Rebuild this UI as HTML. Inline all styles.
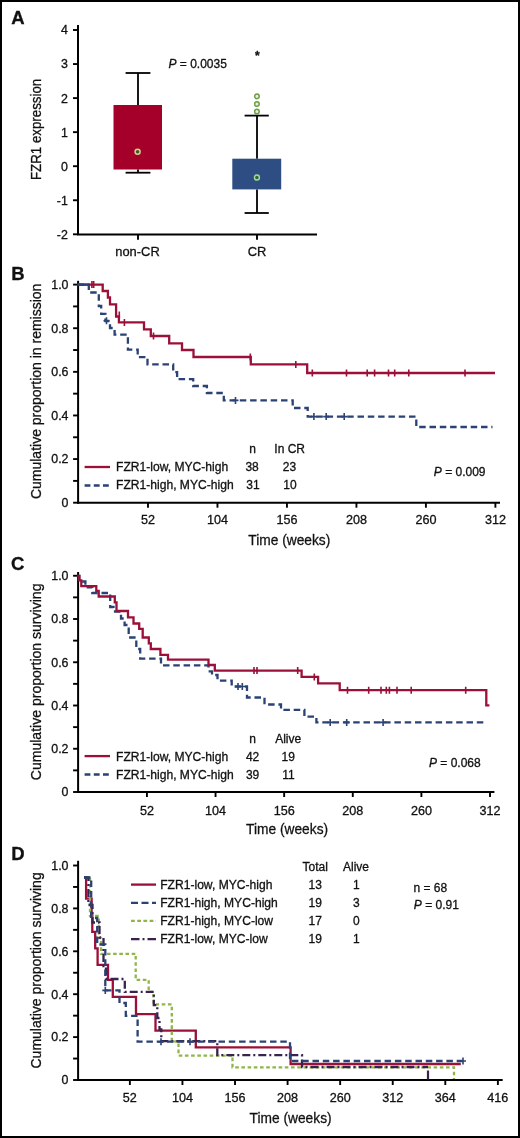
<!DOCTYPE html>
<html><head><meta charset="utf-8"><style>
html,body{margin:0;padding:0;background:#fff;}
.wrap{position:relative;width:516px;height:1134px;border:2px solid #000;overflow:hidden;}
svg{display:block;will-change:transform;}
text{font-family:"Liberation Sans", sans-serif;fill:#111;stroke:#111;stroke-width:0.3px;}
</style></head><body><div class="wrap">
<svg width="520" height="1138" viewBox="0 0 520 1138" style="position:absolute;left:-2px;top:-2px">
<text x="11.2" y="24.2" font-size="18.5" text-anchor="start" font-weight="bold" >A</text>
<line x1="78" y1="25" x2="78" y2="235" stroke="#000" stroke-width="2" />
<line x1="77" y1="234.4" x2="317" y2="234.4" stroke="#000" stroke-width="2" />
<line x1="73" y1="234.29999999999998" x2="78" y2="234.29999999999998" stroke="#000" stroke-width="1.9" />
<text x="67.9" y="238.7" font-size="12.4" text-anchor="end" font-weight="normal" >-2</text>
<line x1="73" y1="200.25" x2="78" y2="200.25" stroke="#000" stroke-width="1.9" />
<text x="67.9" y="204.65" font-size="12.4" text-anchor="end" font-weight="normal" >-1</text>
<line x1="73" y1="166.2" x2="78" y2="166.2" stroke="#000" stroke-width="1.9" />
<text x="67.9" y="170.6" font-size="12.4" text-anchor="end" font-weight="normal" >0</text>
<line x1="73" y1="132.14999999999998" x2="78" y2="132.14999999999998" stroke="#000" stroke-width="1.9" />
<text x="67.9" y="136.54999999999998" font-size="12.4" text-anchor="end" font-weight="normal" >1</text>
<line x1="73" y1="98.1" x2="78" y2="98.1" stroke="#000" stroke-width="1.9" />
<text x="67.9" y="102.5" font-size="12.4" text-anchor="end" font-weight="normal" >2</text>
<line x1="73" y1="64.05" x2="78" y2="64.05" stroke="#000" stroke-width="1.9" />
<text x="67.9" y="68.45" font-size="12.4" text-anchor="end" font-weight="normal" >3</text>
<line x1="73" y1="30.0" x2="78" y2="30.0" stroke="#000" stroke-width="1.9" />
<text x="67.9" y="34.4" font-size="12.4" text-anchor="end" font-weight="normal" >4</text>
<line x1="138" y1="234.4" x2="138" y2="239.8" stroke="#000" stroke-width="1.9" />
<line x1="257" y1="234.4" x2="257" y2="239.8" stroke="#000" stroke-width="1.9" />
<text x="137.5" y="256" font-size="12.9" text-anchor="middle" font-weight="normal" >non-CR</text>
<text x="257" y="256" font-size="12.9" text-anchor="middle" font-weight="normal" >CR</text>
<text transform="translate(41.4,129.4) rotate(-90)" font-size="15" text-anchor="middle" textLength="101.2" lengthAdjust="spacingAndGlyphs">FZR1 expression</text>
<line x1="138" y1="73" x2="138" y2="105" stroke="#000" stroke-width="1.8" />
<line x1="125.6" y1="73" x2="150.4" y2="73" stroke="#000" stroke-width="1.8" />
<rect x="113.5" y="105" width="48.5" height="64.5" fill="#A50029"/>
<line x1="138" y1="169.5" x2="138" y2="172.7" stroke="#000" stroke-width="1.8" />
<line x1="125.6" y1="172.7" x2="150.4" y2="172.7" stroke="#000" stroke-width="1.8" />
<line x1="257" y1="115.6" x2="257" y2="158.7" stroke="#000" stroke-width="1.8" />
<line x1="244.6" y1="115.6" x2="268.8" y2="115.6" stroke="#000" stroke-width="1.8" />
<rect x="232.3" y="158.7" width="48.9" height="30.7" fill="#2E4D82"/>
<line x1="257" y1="189.4" x2="257" y2="213" stroke="#000" stroke-width="1.8" />
<line x1="244.6" y1="213" x2="268.8" y2="213" stroke="#000" stroke-width="1.8" />
<circle cx="256.9" cy="96.35" r="2.3" fill="#E4F5D6" stroke="#6C9C48" stroke-width="1.5"/>
<circle cx="256.9" cy="104" r="2.3" fill="#E4F5D6" stroke="#6C9C48" stroke-width="1.5"/>
<circle cx="256.9" cy="111.5" r="2.3" fill="#E4F5D6" stroke="#6C9C48" stroke-width="1.5"/>
<circle cx="137.6" cy="151.8" r="2.5" fill="#3F5A1A" stroke="#D9CC9A" stroke-width="1.5"/>
<circle cx="256.9" cy="177.6" r="2.5" fill="#2A6A2E" stroke="#A8D3A0" stroke-width="1.5"/>
<text x="257.4" y="59.8" font-size="12" text-anchor="middle" font-weight="bold" >*</text>
<text x="168.5" y="67.7" font-size="12" text-anchor="start" font-weight="normal" ><tspan font-style="italic">P</tspan> = 0.0035</text>
<text x="11.2" y="279.6" font-size="18.5" text-anchor="start" font-weight="bold" >B</text>
<line x1="78.1" y1="280.8" x2="78.1" y2="503.7" stroke="#000" stroke-width="2" />
<line x1="77.1" y1="502.7" x2="500" y2="502.7" stroke="#000" stroke-width="2" />
<line x1="73.1" y1="502.7" x2="78.1" y2="502.7" stroke="#000" stroke-width="1.9" />
<text x="68.5" y="507.0" font-size="12.4" text-anchor="end" font-weight="normal" >0</text>
<line x1="73.1" y1="480.89" x2="78.1" y2="480.89" stroke="#000" stroke-width="1.9" />
<line x1="73.1" y1="459.08" x2="78.1" y2="459.08" stroke="#000" stroke-width="1.9" />
<text x="68.5" y="463.38" font-size="12.4" text-anchor="end" font-weight="normal" >0.2</text>
<line x1="73.1" y1="437.27" x2="78.1" y2="437.27" stroke="#000" stroke-width="1.9" />
<line x1="73.1" y1="415.46000000000004" x2="78.1" y2="415.46000000000004" stroke="#000" stroke-width="1.9" />
<text x="68.5" y="419.76000000000005" font-size="12.4" text-anchor="end" font-weight="normal" >0.4</text>
<line x1="73.1" y1="393.65" x2="78.1" y2="393.65" stroke="#000" stroke-width="1.9" />
<line x1="73.1" y1="371.84000000000003" x2="78.1" y2="371.84000000000003" stroke="#000" stroke-width="1.9" />
<text x="68.5" y="376.14000000000004" font-size="12.4" text-anchor="end" font-weight="normal" >0.6</text>
<line x1="73.1" y1="350.03000000000003" x2="78.1" y2="350.03000000000003" stroke="#000" stroke-width="1.9" />
<line x1="73.1" y1="328.22" x2="78.1" y2="328.22" stroke="#000" stroke-width="1.9" />
<text x="68.5" y="332.52000000000004" font-size="12.4" text-anchor="end" font-weight="normal" >0.8</text>
<line x1="73.1" y1="306.41" x2="78.1" y2="306.41" stroke="#000" stroke-width="1.9" />
<line x1="73.1" y1="284.6" x2="78.1" y2="284.6" stroke="#000" stroke-width="1.9" />
<text x="68.5" y="288.90000000000003" font-size="12.4" text-anchor="end" font-weight="normal" >1.0</text>
<line x1="147.98239999999998" y1="502.7" x2="147.98239999999998" y2="507.7" stroke="#000" stroke-width="1.9" />
<text x="147.98239999999998" y="524.2" font-size="12.6" text-anchor="middle" font-weight="normal" >52</text>
<line x1="217.4648" y1="502.7" x2="217.4648" y2="507.7" stroke="#000" stroke-width="1.9" />
<text x="217.4648" y="524.2" font-size="12.6" text-anchor="middle" font-weight="normal" >104</text>
<line x1="286.9472" y1="502.7" x2="286.9472" y2="507.7" stroke="#000" stroke-width="1.9" />
<text x="286.9472" y="524.2" font-size="12.6" text-anchor="middle" font-weight="normal" >156</text>
<line x1="356.4296" y1="502.7" x2="356.4296" y2="507.7" stroke="#000" stroke-width="1.9" />
<text x="356.4296" y="524.2" font-size="12.6" text-anchor="middle" font-weight="normal" >208</text>
<line x1="425.91200000000003" y1="502.7" x2="425.91200000000003" y2="507.7" stroke="#000" stroke-width="1.9" />
<text x="425.91200000000003" y="524.2" font-size="12.6" text-anchor="middle" font-weight="normal" >260</text>
<line x1="495.3944" y1="502.7" x2="495.3944" y2="507.7" stroke="#000" stroke-width="1.9" />
<text x="495.3944" y="524.2" font-size="12.6" text-anchor="middle" font-weight="normal" >312</text>
<text transform="translate(41.4,391.35) rotate(-90)" font-size="15" text-anchor="middle" textLength="215.5" lengthAdjust="spacingAndGlyphs">Cumulative proportion in remission</text>
<text x="248.29999999999998" y="545.3" font-size="15.5" text-anchor="start" font-weight="normal" textLength="82" lengthAdjust="spacingAndGlyphs">Time (weeks)</text>
<path d="M77.5,284.6 H88.8 V292.5 H98.8 V306 H101.2 V313.8 H105.4 V321 H110 V328 H114.6 V334.6 H127.9 V349.6 H137.7 V357.1 H147.5 V364.4 H173.2 V372.2 H177.1 V379.2 H193.2 V386 H206.9 V393 H223.8 V400.4 H292.7 V408 H307.7 V416.6 H416.3 V427 H492.5" fill="none" stroke="#2B4274" stroke-width="2.3" stroke-dasharray="6.5 3.8" stroke-linejoin="miter" />
<path d="M106.5,317.3V324.3M235.5,396.9V403.9M313.9,413.1V420.1M326.2,413.1V420.1M344.2,413.1V420.1M103.5,320.8H109.5M232.5,400.4H238.5M310.9,416.6H316.9M323.2,416.6H329.2M341.2,416.6H347.2" stroke="#2B4274" stroke-width="1.6" fill="none"/>
<path d="M77.5,284.6 H102.7 V291 H107.9 V297.5 H110 V304.3 H116.1 V316.5 H118.9 V322.4 H144 V329.3 H150.8 V336 H169.2 V343.3 H182 V350 H193.5 V357 H250.8 V364.4 H307.2 V373 H495" fill="none" stroke="#9A1038" stroke-width="2.3"  stroke-linejoin="miter" />
<line x1="78" y1="284.6" x2="88.8" y2="284.6" stroke="#2B4274" stroke-width="2.2" />
<path d="M91.9,281.1V288.1M93.7,281.1V288.1M119.3,311.5V318.5M124.4,318.9V325.9M153.5,332.5V339.5M250.3,353.5V360.5M295.8,360.9V367.9M312.3,369.5V376.5M346.5,369.5V376.5M367.2,369.5V376.5M374.6,369.5V376.5M388.5,369.5V376.5M394.7,369.5V376.5M408.75,369.5V376.5M465,369.5V376.5" stroke="#9A1038" stroke-width="1.6" fill="none"/>
<line x1="84.6" y1="467" x2="110" y2="467" stroke="#9A1038" stroke-width="2.3" />
<line x1="84.6" y1="485.5" x2="110" y2="485.5" stroke="#2B4274" stroke-width="2.3" stroke-dasharray="5.8 3.4"/>
<text x="116" y="471.3" font-size="12.1" text-anchor="start" font-weight="normal" >FZR1-low, MYC-high</text>
<text x="116" y="489.3" font-size="12.1" text-anchor="start" font-weight="normal" >FZR1-high, MYC-high</text>
<text x="252.6" y="453.3" font-size="12" text-anchor="middle" font-weight="normal" >n</text>
<text x="289.7" y="453.3" font-size="12" text-anchor="middle" font-weight="normal" >In CR</text>
<text x="252.1" y="471.3" font-size="12" text-anchor="middle" font-weight="normal" >38</text>
<text x="289.5" y="471.3" font-size="12" text-anchor="middle" font-weight="normal" >23</text>
<text x="252.9" y="489.3" font-size="12" text-anchor="middle" font-weight="normal" >31</text>
<text x="289.9" y="489.3" font-size="12" text-anchor="middle" font-weight="normal" >10</text>
<text x="433.8" y="476.1" font-size="12" text-anchor="start" font-weight="normal" ><tspan font-style="italic">P</tspan> = 0.009</text>
<text x="11.0" y="570.2" font-size="18.5" text-anchor="start" font-weight="bold" >C</text>
<line x1="78.1" y1="572" x2="78.1" y2="793" stroke="#000" stroke-width="2" />
<line x1="77.1" y1="792" x2="494.4" y2="792" stroke="#000" stroke-width="2" />
<line x1="73.1" y1="792.0" x2="78.1" y2="792.0" stroke="#000" stroke-width="1.9" />
<text x="68.5" y="796.3" font-size="12.4" text-anchor="end" font-weight="normal" >0</text>
<line x1="73.1" y1="770.375" x2="78.1" y2="770.375" stroke="#000" stroke-width="1.9" />
<line x1="73.1" y1="748.75" x2="78.1" y2="748.75" stroke="#000" stroke-width="1.9" />
<text x="68.5" y="753.05" font-size="12.4" text-anchor="end" font-weight="normal" >0.2</text>
<line x1="73.1" y1="727.125" x2="78.1" y2="727.125" stroke="#000" stroke-width="1.9" />
<line x1="73.1" y1="705.5" x2="78.1" y2="705.5" stroke="#000" stroke-width="1.9" />
<text x="68.5" y="709.8" font-size="12.4" text-anchor="end" font-weight="normal" >0.4</text>
<line x1="73.1" y1="683.875" x2="78.1" y2="683.875" stroke="#000" stroke-width="1.9" />
<line x1="73.1" y1="662.25" x2="78.1" y2="662.25" stroke="#000" stroke-width="1.9" />
<text x="68.5" y="666.55" font-size="12.4" text-anchor="end" font-weight="normal" >0.6</text>
<line x1="73.1" y1="640.625" x2="78.1" y2="640.625" stroke="#000" stroke-width="1.9" />
<line x1="73.1" y1="619.0" x2="78.1" y2="619.0" stroke="#000" stroke-width="1.9" />
<text x="68.5" y="623.3" font-size="12.4" text-anchor="end" font-weight="normal" >0.8</text>
<line x1="73.1" y1="597.375" x2="78.1" y2="597.375" stroke="#000" stroke-width="1.9" />
<line x1="73.1" y1="575.75" x2="78.1" y2="575.75" stroke="#000" stroke-width="1.9" />
<text x="68.5" y="580.05" font-size="12.4" text-anchor="end" font-weight="normal" >1.0</text>
<line x1="146.9192" y1="792" x2="146.9192" y2="797" stroke="#000" stroke-width="1.9" />
<text x="146.9192" y="814.6" font-size="12.6" text-anchor="middle" font-weight="normal" >52</text>
<line x1="215.53840000000002" y1="792" x2="215.53840000000002" y2="797" stroke="#000" stroke-width="1.9" />
<text x="215.53840000000002" y="814.6" font-size="12.6" text-anchor="middle" font-weight="normal" >104</text>
<line x1="284.1576" y1="792" x2="284.1576" y2="797" stroke="#000" stroke-width="1.9" />
<text x="284.1576" y="814.6" font-size="12.6" text-anchor="middle" font-weight="normal" >156</text>
<line x1="352.77680000000004" y1="792" x2="352.77680000000004" y2="797" stroke="#000" stroke-width="1.9" />
<text x="352.77680000000004" y="814.6" font-size="12.6" text-anchor="middle" font-weight="normal" >208</text>
<line x1="421.396" y1="792" x2="421.396" y2="797" stroke="#000" stroke-width="1.9" />
<text x="421.396" y="814.6" font-size="12.6" text-anchor="middle" font-weight="normal" >260</text>
<line x1="490.01520000000005" y1="792" x2="490.01520000000005" y2="797" stroke="#000" stroke-width="1.9" />
<text x="490.01520000000005" y="814.6" font-size="12.6" text-anchor="middle" font-weight="normal" >312</text>
<text transform="translate(41.4,681.9) rotate(-90)" font-size="15" text-anchor="middle" textLength="196.7" lengthAdjust="spacingAndGlyphs">Cumulative proportion surviving</text>
<text x="246.1" y="834" font-size="15.5" text-anchor="start" font-weight="normal" textLength="82" lengthAdjust="spacingAndGlyphs">Time (weeks)</text>
<path d="M77.5,575.8 H79 V581.5 H85.4 V587.3 H92.3 V593 H110.2 V607 H113.5 V611.5 H121 V618.5 H124.6 V625 H128.7 V637.5 H136.3 V649 H140.2 V658.7 H161 V665.4 H208.5 V671.3 H212 V675 H217.5 V680.6 H231.7 V686.5 H247 V697.5 H264.5 V704.5 H281 V709.8 H304.4 V716.6 H316.4 V722.4 H484.1" fill="none" stroke="#2B4274" stroke-width="2.3" stroke-dasharray="6.5 3.8" stroke-linejoin="miter" />
<path d="M238,683.0V690.0M242.3,683.0V690.0M330.2,718.9V725.9M346.7,718.9V725.9M383.1,718.9V725.9M235,686.5H241M239.3,686.5H245.3M327.2,722.4H333.2M343.7,722.4H349.7M380.1,722.4H386.1" stroke="#2B4274" stroke-width="1.6" fill="none"/>
<path d="M77.5,575.8 H79.5 V580.4 H81.3 V586.2 H96.3 V590.8 H98.7 V596.5 H114.8 V602.3 H116.5 V611 H128 V617.3 H133.5 V623.5 H139.2 V628.8 H142.7 V637.5 H148.8 V643.3 H150.8 V649 H160.4 V654.8 H168 V659.6 H208.5 V665 H214.8 V670.6 H301.6 V676.9 H318.1 V683.4 H339.7 V690.2 H486.3 V705.4 H489.4" fill="none" stroke="#9A1038" stroke-width="2.3"  stroke-linejoin="miter" />
<path d="M254,667.1V674.1M257,667.1V674.1M297.7,667.1V674.1M314.3,673.4V680.4M347.5,686.7V693.7M368.7,686.7V693.7M381,686.7V693.7M386.3,686.7V693.7M389.4,686.7V693.7M397,686.7V693.7M411.2,686.7V693.7M465.7,686.7V693.7" stroke="#9A1038" stroke-width="1.6" fill="none"/>
<line x1="84.6" y1="756.1" x2="110" y2="756.1" stroke="#9A1038" stroke-width="2.3" />
<line x1="84.6" y1="774.5" x2="110" y2="774.5" stroke="#2B4274" stroke-width="2.3" stroke-dasharray="5.8 3.4"/>
<text x="116" y="760.6" font-size="12.1" text-anchor="start" font-weight="normal" >FZR1-low, MYC-high</text>
<text x="116" y="778.6" font-size="12.1" text-anchor="start" font-weight="normal" >FZR1-high, MYC-high</text>
<text x="252.6" y="742.8" font-size="12" text-anchor="middle" font-weight="normal" >n</text>
<text x="288.2" y="742.8" font-size="12" text-anchor="middle" font-weight="normal" >Alive</text>
<text x="252.6" y="760.6" font-size="12" text-anchor="middle" font-weight="normal" >42</text>
<text x="288.2" y="760.6" font-size="12" text-anchor="middle" font-weight="normal" >19</text>
<text x="252.6" y="778.6" font-size="12" text-anchor="middle" font-weight="normal" >39</text>
<text x="288.5" y="778.6" font-size="12" text-anchor="middle" font-weight="normal" >11</text>
<text x="429" y="766.6" font-size="12" text-anchor="start" font-weight="normal" ><tspan font-style="italic">P</tspan> = 0.068</text>
<text x="11.2" y="859.6" font-size="18.5" text-anchor="start" font-weight="bold" >D</text>
<line x1="78.1" y1="860.75" x2="78.1" y2="1081" stroke="#000" stroke-width="2" />
<line x1="77.1" y1="1080" x2="502.7" y2="1080" stroke="#000" stroke-width="2" />
<line x1="73.1" y1="1080.0" x2="78.1" y2="1080.0" stroke="#000" stroke-width="1.9" />
<text x="68.5" y="1084.3" font-size="12.4" text-anchor="end" font-weight="normal" >0</text>
<line x1="73.1" y1="1058.55" x2="78.1" y2="1058.55" stroke="#000" stroke-width="1.9" />
<line x1="73.1" y1="1037.1" x2="78.1" y2="1037.1" stroke="#000" stroke-width="1.9" />
<text x="68.5" y="1041.3999999999999" font-size="12.4" text-anchor="end" font-weight="normal" >0.2</text>
<line x1="73.1" y1="1015.65" x2="78.1" y2="1015.65" stroke="#000" stroke-width="1.9" />
<line x1="73.1" y1="994.2" x2="78.1" y2="994.2" stroke="#000" stroke-width="1.9" />
<text x="68.5" y="998.5" font-size="12.4" text-anchor="end" font-weight="normal" >0.4</text>
<line x1="73.1" y1="972.75" x2="78.1" y2="972.75" stroke="#000" stroke-width="1.9" />
<line x1="73.1" y1="951.3" x2="78.1" y2="951.3" stroke="#000" stroke-width="1.9" />
<text x="68.5" y="955.5999999999999" font-size="12.4" text-anchor="end" font-weight="normal" >0.6</text>
<line x1="73.1" y1="929.85" x2="78.1" y2="929.85" stroke="#000" stroke-width="1.9" />
<line x1="73.1" y1="908.4" x2="78.1" y2="908.4" stroke="#000" stroke-width="1.9" />
<text x="68.5" y="912.6999999999999" font-size="12.4" text-anchor="end" font-weight="normal" >0.8</text>
<line x1="73.1" y1="886.95" x2="78.1" y2="886.95" stroke="#000" stroke-width="1.9" />
<line x1="73.1" y1="865.5" x2="78.1" y2="865.5" stroke="#000" stroke-width="1.9" />
<text x="68.5" y="869.8" font-size="12.4" text-anchor="end" font-weight="normal" >1.0</text>
<line x1="129.87199999999999" y1="1080" x2="129.87199999999999" y2="1085" stroke="#000" stroke-width="1.9" />
<text x="129.87199999999999" y="1102.2" font-size="12.6" text-anchor="middle" font-weight="normal" >52</text>
<line x1="182.444" y1="1080" x2="182.444" y2="1085" stroke="#000" stroke-width="1.9" />
<text x="182.444" y="1102.2" font-size="12.6" text-anchor="middle" font-weight="normal" >104</text>
<line x1="235.01599999999996" y1="1080" x2="235.01599999999996" y2="1085" stroke="#000" stroke-width="1.9" />
<text x="235.01599999999996" y="1102.2" font-size="12.6" text-anchor="middle" font-weight="normal" >156</text>
<line x1="287.58799999999997" y1="1080" x2="287.58799999999997" y2="1085" stroke="#000" stroke-width="1.9" />
<text x="287.58799999999997" y="1102.2" font-size="12.6" text-anchor="middle" font-weight="normal" >208</text>
<line x1="340.15999999999997" y1="1080" x2="340.15999999999997" y2="1085" stroke="#000" stroke-width="1.9" />
<text x="340.15999999999997" y="1102.2" font-size="12.6" text-anchor="middle" font-weight="normal" >260</text>
<line x1="392.73199999999997" y1="1080" x2="392.73199999999997" y2="1085" stroke="#000" stroke-width="1.9" />
<text x="392.73199999999997" y="1102.2" font-size="12.6" text-anchor="middle" font-weight="normal" >312</text>
<line x1="445.304" y1="1080" x2="445.304" y2="1085" stroke="#000" stroke-width="1.9" />
<text x="445.304" y="1102.2" font-size="12.6" text-anchor="middle" font-weight="normal" >364</text>
<line x1="497.876" y1="1080" x2="497.876" y2="1085" stroke="#000" stroke-width="1.9" />
<text x="497.876" y="1102.2" font-size="12.6" text-anchor="middle" font-weight="normal" >416</text>
<text transform="translate(41.4,970.4) rotate(-90)" font-size="15" text-anchor="middle" textLength="196.2" lengthAdjust="spacingAndGlyphs">Cumulative proportion surviving</text>
<text x="249.6" y="1122.5" font-size="15.5" text-anchor="start" font-weight="normal" textLength="82" lengthAdjust="spacingAndGlyphs">Time (weeks)</text>
<path d="M84,877.5 H86.1 V898.6 H91.6 V915.1 H92.3 V931.8 H95.2 V948.3 H97.6 V964.8 H108 V979.8 H112.8 V996.8 H136 V1014.2 H155.5 V1030.6 H195.8 V1047.3 H290.6 V1064 H460.8" fill="none" stroke="#9A1038" stroke-width="2.3"  stroke-linejoin="miter" />
<path d="M84,877.5 H90 V916 H98.8 V938 H101 V953.8 H135.7 V979.9 H148.7 V991.8 H153.5 V1004.4 H171.8 V1041.5 H178.5 V1055.6 H232.5 V1067.3 H454 V1079" fill="none" stroke="#90B64A" stroke-width="2.3" stroke-dasharray="3.6 2.6" stroke-linejoin="miter" />
<path d="M84,877.5 H88.4 V905 H92.5 V922.5 H99.5 V937.5 H103.5 V966 H106 V979 H124.8 V991.8 H153.8 V1005.2 H157.3 V1018 H159.5 V1029.5 H161.3 V1041.2 H217.3 V1055.2 H302 V1067 H428" fill="none" stroke="#3A2250" stroke-width="2.3" stroke-dasharray="8 3 2 3" stroke-linejoin="miter" />
<line x1="428" y1="1070.5" x2="428" y2="1079.5" stroke="#3A2250" stroke-width="2.2" />
<path d="M84,877.5 H91.2 V918 H97.2 V944.5 H105.3 V990.4 H119.5 V1003 H125.8 V1015.8 H137.6 V1041.7 H290 V1061 H462.7" fill="none" stroke="#2B4274" stroke-width="2.3" stroke-dasharray="6.5 3.8" stroke-linejoin="miter" />
<path d="M105.3,986.9V993.9M161,1038.2V1045.2M190,1038.2V1045.2M463,1057.5V1064.5M102.3,990.4H108.3M158,1041.7H164M187,1041.7H193M460,1061H466" stroke="#2B4274" stroke-width="1.6" fill="none"/>
<line x1="131" y1="884.6" x2="156" y2="884.6" stroke="#9A1038" stroke-width="2.3" />
<line x1="131" y1="902.8" x2="156" y2="902.8" stroke="#2B4274" stroke-width="2.3" stroke-dasharray="7 3.5"/>
<line x1="131" y1="920.8" x2="156" y2="920.8" stroke="#90B64A" stroke-width="2.3" stroke-dasharray="3.8 2.4"/>
<line x1="131" y1="939.2" x2="156" y2="939.2" stroke="#3A2250" stroke-width="2.3" stroke-dasharray="8.5 3 2 3"/>
<text x="160.2" y="888.7" font-size="12.1" text-anchor="start" font-weight="normal" >FZR1-low, MYC-high</text>
<text x="160.2" y="906.9" font-size="12.1" text-anchor="start" font-weight="normal" >FZR1-high, MYC-high</text>
<text x="160.2" y="925.1" font-size="12.1" text-anchor="start" font-weight="normal" >FZR1-high, MYC-low</text>
<text x="160.2" y="943.3" font-size="12.1" text-anchor="start" font-weight="normal" >FZR1-low, MYC-low</text>
<text x="315.3" y="870.6" font-size="12" text-anchor="middle" font-weight="normal" >Total</text>
<text x="356" y="870.6" font-size="12" text-anchor="middle" font-weight="normal" >Alive</text>
<text x="315.2" y="888.7" font-size="12" text-anchor="middle" font-weight="normal" >13</text>
<text x="356.3" y="888.7" font-size="12" text-anchor="middle" font-weight="normal" >1</text>
<text x="315.2" y="906.9000000000001" font-size="12" text-anchor="middle" font-weight="normal" >19</text>
<text x="356.3" y="906.9000000000001" font-size="12" text-anchor="middle" font-weight="normal" >3</text>
<text x="315.2" y="925.1" font-size="12" text-anchor="middle" font-weight="normal" >17</text>
<text x="356.3" y="925.1" font-size="12" text-anchor="middle" font-weight="normal" >0</text>
<text x="315.2" y="943.3000000000001" font-size="12" text-anchor="middle" font-weight="normal" >19</text>
<text x="356.3" y="943.3000000000001" font-size="12" text-anchor="middle" font-weight="normal" >1</text>
<text x="413.5" y="891.6" font-size="12" text-anchor="start" font-weight="normal" >n = 68</text>
<text x="413.8" y="909.2" font-size="12" text-anchor="start" font-weight="normal" ><tspan font-style="italic">P</tspan> = 0.91</text>
</svg></div></body></html>
